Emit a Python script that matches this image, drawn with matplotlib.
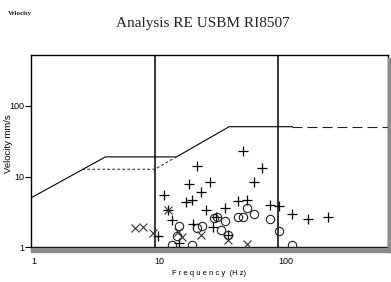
import matplotlib
matplotlib.use("Agg")
import matplotlib.pyplot as plt
from matplotlib.ticker import FixedLocator, NullLocator, FixedFormatter
from matplotlib.patches import Rectangle

# ---- data ----
plus_f = [11.9, 12.9, 19.1, 21.8, 17.8, 20.1, 23.8, 27.8, 26, 37, 46.9, 56, 51.4, 73.7,
          63.9, 85.5, 102, 129, 175, 253, 20.5, 31.3, 29.4, 15.8, 10.7, 38.9, 13.7]
plus_v = [5.5, 3.37, 7.8, 14.1, 4.4, 4.67, 6.0, 8.5, 3.37, 3.55, 4.5, 4.67, 23, 13.4,
          8.5, 3.97, 3.84, 2.96, 2.49, 2.71, 2.14, 2.71, 1.95, 1.16, 1.44, 1.49, 2.43]

circ_f = [15.8, 15.1, 13.9, 20.1, 21.8, 24, 30.1, 32, 37, 34.2, 38.9, 46.9, 51.4, 56,
          63.9, 85.5, 102, 129]
circ_v = [2.02, 1.46, 1.08, 1.08, 1.86, 2.02, 2.57, 2.66, 2.35, 1.76, 1.49, 2.66, 2.66,
          3.56, 2.93, 2.49, 1.7, 1.08]

cross_f = [6.93, 8.0, 9.75, 12.9, 15.5, 16.5, 23.7, 39.4, 56]
cross_v = [1.86, 1.92, 1.58, 3.37, 1.66, 1.41, 1.49, 1.27, 1.11]

drywall_f = [1, 4, 15, 40, 130]
drywall_v = [5, 19, 19, 50.8, 50.8]
plaster_f = [2.6, 10, 15]
plaster_v = [12.7, 12.7, 19]
ext_f = [130, 770]
ext_v = [50.8, 50.8]

grid_f = [10, 100]
x_ticks = [1, 10, 100]
x_labels = ["1", "10", "100"]
y_ticks = [1, 10, 100]
y_labels = ["1", "10", "100"]

# ---- figure ----
W, H = 391, 282
fig = plt.figure(figsize=(W / 100, H / 100), dpi=100)
L, R, T, B = 31, 388, 55, 247.3
ax = fig.add_axes([L / W, 1 - B / H, (R - L) / W, (B - T) / H])
ax.set_xscale("log")
ax.set_yscale("log")
ax.set_xlim(1, 770)
ax.set_ylim(1, 525)

for g in grid_f:
    ax.axvline(g, color="black", lw=1.1, zorder=1)

ax.plot(drywall_f, drywall_v, color="black", lw=0.8, zorder=2)
ax.plot(plaster_f, plaster_v, color="#333333", lw=0.8, ls=(0, (2.5, 2)), zorder=2)
ax.plot(ext_f, ext_v, color="#222222", lw=0.8, ls=(0, (9, 4.5)), zorder=2)

ax.plot(plus_f, plus_v, ls="none", marker="+", ms=7, mew=0.9, color="black", zorder=3)
ax.plot(circ_f, circ_v, ls="none", marker="o", ms=6, mew=0.8, mfc="none",
        mec="#222222", zorder=3)
ax.plot(cross_f, cross_v, ls="none", marker="x", ms=5.5, mew=0.8, color="#333333", zorder=3)

ax.xaxis.set_major_locator(FixedLocator(x_ticks))
ax.xaxis.set_major_formatter(FixedFormatter(x_labels))
ax.xaxis.set_minor_locator(NullLocator())
ax.yaxis.set_major_locator(FixedLocator(y_ticks))
ax.yaxis.set_major_formatter(FixedFormatter(y_labels))
ax.yaxis.set_minor_locator(NullLocator())

ax.tick_params(axis="x", length=3, width=0.8, pad=4, labelsize=6.5)
ax.tick_params(axis="y", length=4, width=0.8, pad=1, labelsize=6.5)
for lab in ax.get_xticklabels():
    lab.set_ha("left")
    lab.set_fontfamily("Liberation Sans")
for lab in ax.get_yticklabels():
    lab.set_fontfamily("Liberation Sans")

for s in ax.spines.values():
    s.set_linewidth(1.0)

ax.set_xlabel("F r e q u e n c y  (H z)", fontsize=5.5, family="Liberation Sans", labelpad=3)
ax.set_ylabel("Velocity mm/s", fontsize=6.8, family="Liberation Sans")
ax.yaxis.set_label_coords((13 - L) / (R - L), (B - 144) / (B - T))

# shadow bars (bottom and right)
fig.patches.append(Rectangle((L / W, 1 - 252 / H), (W - L) / W, 4.5 / H,
                             transform=fig.transFigure, color="#8a8a8a", zorder=0))
fig.patches.append(Rectangle((R / W, 1 - 252 / H), 3 / W, (252 - T - 3) / H,
                             transform=fig.transFigure, color="#8a8a8a", zorder=0))

fig.text(203 / W, 1 - 24 / H, "Analysis RE USBM RI8507", ha="center", va="center",
         fontsize=11, family="Liberation Serif", color="#222222")
fig.text(8 / W, 1 - 13 / H, "Velocity", ha="left", va="center", fontsize=5,
         family="Liberation Serif", weight="bold", color="#222222")

fig.savefig("out.png", dpi=100)
